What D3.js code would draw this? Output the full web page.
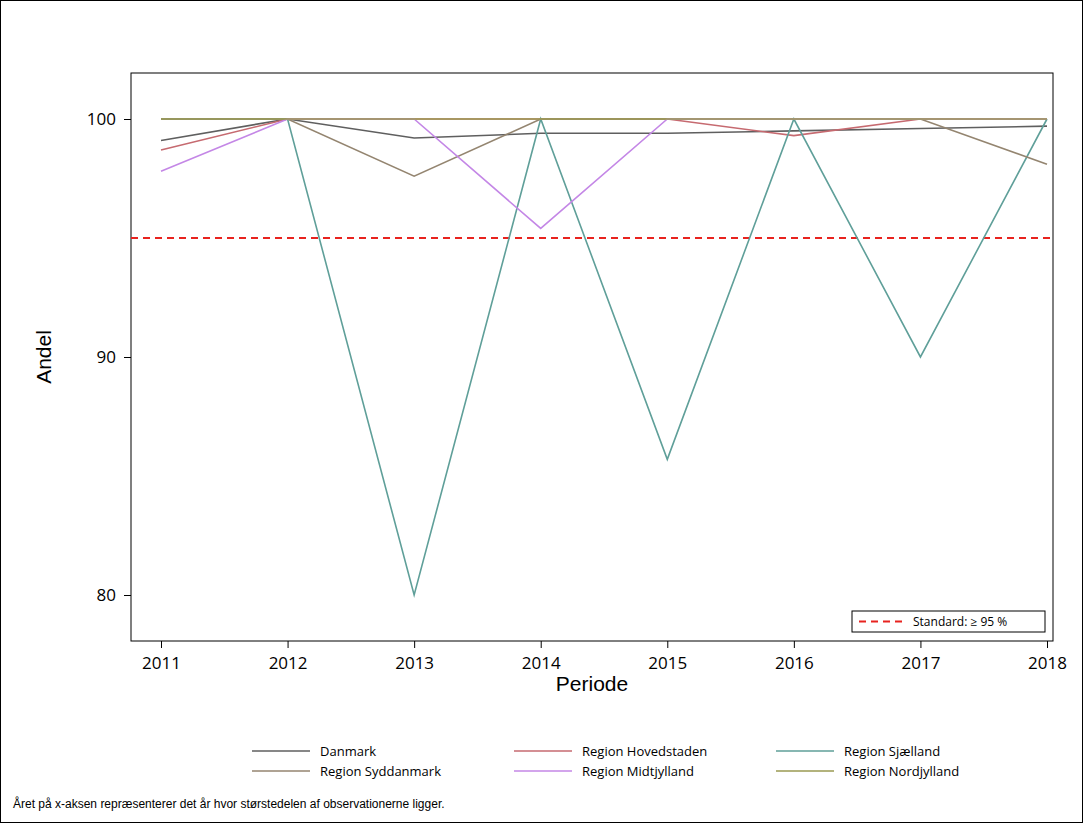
<!DOCTYPE html>
<html><head><meta charset="utf-8">
<script src="https://cdn.jsdelivr.net/npm/d3@7"></script>
<style>body{margin:0;background:#fff}svg{display:block}</style>
</head><body>
<svg id="chart" width="1083" height="823"></svg>
<script>
const years = [2011, 2012, 2013, 2014, 2015, 2016, 2017, 2018];
const yTicks = [80, 90, 100];
const standard = 95;

const danmark = [99.1, 100, 99.2, 99.4, 99.4, 99.5, 99.6, 99.7];
const hovedstaden = [98.7, 100, 100, 100, 100, 99.3, 100, 100];
const sjaelland = [100, 100, 80, 100, 85.7, 100, 90, 100];
const syddanmark = [100, 100, 97.6, 100, 100, 100, 100, 98.1];
const midtjylland = [97.8, 100, 100, 95.4, 100, 100, 100, 100];
const nordjylland = [100, 100, 100, 100, 100, 100, 100, 100];

const series = [
  { name: "Danmark", values: danmark, color: "#5f5f5f" },
  { name: "Region Hovedstaden", values: hovedstaden, color: "#c66a70" },
  { name: "Region Sjælland", values: sjaelland, color: "#5f9f99" },
  { name: "Region Syddanmark", values: syddanmark, color: "#948570" },
  { name: "Region Midtjylland", values: midtjylland, color: "#c487e6" },
  { name: "Region Nordjylland", values: nordjylland, color: "#9a9a52" },
];

const svg = d3.select("#chart");
svg.append("rect").attr("x", 0.5).attr("y", 0.5).attr("width", 1082).attr("height", 822)
  .attr("fill", "none").attr("stroke", "#000");

const m = { left: 131, right: 1053, top: 73, bottom: 641 };
const x = d3.scaleLinear().domain([2011, 2018]).range([161, 1047]);
const y = d3.scaleLinear().domain([80, 100]).range([595, 119]);

// plot frame
svg.append("rect").attr("x", m.left).attr("y", m.top)
  .attr("width", m.right - m.left).attr("height", m.bottom - m.top)
  .attr("fill", "none").attr("stroke", "#000");

const xAxis = svg.append("g").attr("transform", `translate(0,${m.bottom})`)
  .call(d3.axisBottom(x).tickValues(years).tickFormat(d3.format("d")).tickSize(7).tickPadding(9));
const yAxis = svg.append("g").attr("transform", `translate(${m.left},0)`)
  .call(d3.axisLeft(y).tickValues(yTicks).tickSize(7).tickPadding(8));
[xAxis, yAxis].forEach(a => {
  a.select(".domain").remove();
  a.selectAll("text").attr("font-family", "Open Sans, sans-serif").attr("font-size", 17).attr("fill", "#000");
  a.selectAll("line").attr("stroke", "#000");
});

svg.append("text").attr("x", (m.left + m.right) / 2).attr("y", 691).attr("text-anchor", "middle")
  .attr("font-family", "Liberation Sans, Arial, sans-serif").attr("font-size", 21).text("Periode");
svg.append("text").attr("transform", `translate(51,${(m.top + m.bottom) / 2}) rotate(-90)`)
  .attr("text-anchor", "middle").attr("font-family", "Liberation Sans, Arial, sans-serif")
  .attr("font-size", 21).text("Andel");

// standard line
svg.append("line").attr("x1", m.left).attr("x2", m.right).attr("y1", y(standard)).attr("y2", y(standard))
  .attr("stroke", "#e8231f").attr("stroke-width", 2).attr("stroke-dasharray", "7,5");

const line = d3.line().x((d, i) => x(years[i])).y(d => y(d));
svg.append("g").selectAll("path").data(series).join("path")
  .attr("d", d => line(d.values)).attr("fill", "none")
  .attr("stroke", d => d.color).attr("stroke-width", 1.6);

// inset legend for standard
const lg = svg.append("g");
lg.append("rect").attr("x", 852).attr("y", 611).attr("width", 193).attr("height", 21)
  .attr("fill", "#fff").attr("stroke", "#000");
lg.append("line").attr("x1", 859).attr("x2", 907).attr("y1", 621.5).attr("y2", 621.5)
  .attr("stroke", "#e8231f").attr("stroke-width", 2).attr("stroke-dasharray", "7,5");
lg.append("text").attr("x", 913).attr("y", 626).attr("font-family", "Open Sans, sans-serif")
  .attr("font-size", 12).text("Standard: ≥ 95 %");

// bottom legend
const cols = [252, 514, 776];
const leg = svg.append("g").selectAll("g").data(series).join("g")
  .attr("transform", (d, i) => `translate(${cols[i % 3]},${i < 3 ? 751 : 771})`);
leg.append("line").attr("x1", 0).attr("x2", 58).attr("stroke", d => d.color).attr("stroke-width", 1.6);
leg.append("text").attr("x", 68).attr("y", 4.5).attr("font-family", "Open Sans, sans-serif")
  .attr("font-size", 13).text(d => d.name);

svg.append("text").attr("x", 13).attr("y", 808).attr("font-family", "Liberation Sans, Arial, sans-serif")
  .attr("font-size", 12).text("Året på x-aksen repræsenterer det år hvor størstedelen af observationerne ligger.");
</script>
</body></html>
